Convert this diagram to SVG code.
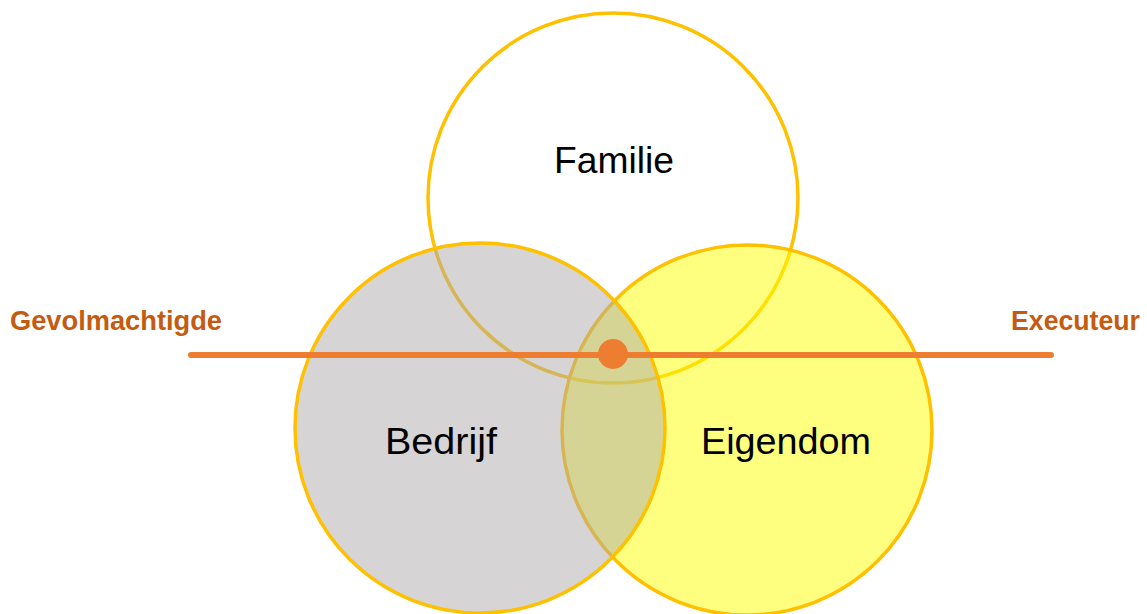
<svg xmlns="http://www.w3.org/2000/svg" width="1147" height="614" viewBox="0 0 1147 614">
<style>
.c{stroke:#FFC000;stroke-width:3.5}
.t{font-family:"Liberation Sans",Arial,sans-serif;font-size:36px;fill:#000;text-anchor:middle}
.l{font-family:"Liberation Sans",Arial,sans-serif;font-size:27px;font-weight:bold;fill:#C55A11}
</style>
<rect width="1147" height="614" fill="#fff"/>
<g id="familie"><circle class="c" cx="613" cy="198" r="185" fill="#fff"/></g>
<g id="eigendom"><circle class="c" cx="747" cy="430" r="185" fill="#FFFF00" fill-opacity="0.5"/></g>
<g id="bedrijf"><circle class="c" cx="480" cy="428" r="185" fill="#AEAAAA" fill-opacity="0.5"/></g>
<g id="labels">
<text class="t" x="614" y="173" textLength="120" lengthAdjust="spacingAndGlyphs">Familie</text>
<text class="t" x="441" y="454" textLength="112" lengthAdjust="spacingAndGlyphs">Bedrijf</text>
<text class="t" x="786" y="454" textLength="170" lengthAdjust="spacingAndGlyphs">Eigendom</text>
</g>
<g id="connectors">
<line x1="191" y1="355" x2="1051" y2="355" stroke="#ED7D31" stroke-width="6" stroke-linecap="round"/>
<circle cx="613" cy="354" r="15" fill="#ED7D31"/>
</g>
<g id="gevolmachtigde"><text class="l" x="10" y="330" textLength="212" lengthAdjust="spacingAndGlyphs">Gevolmachtigde</text></g>
<g id="executeur"><text class="l" x="1011" y="330" textLength="129" lengthAdjust="spacingAndGlyphs">Executeur</text></g>
</svg>
